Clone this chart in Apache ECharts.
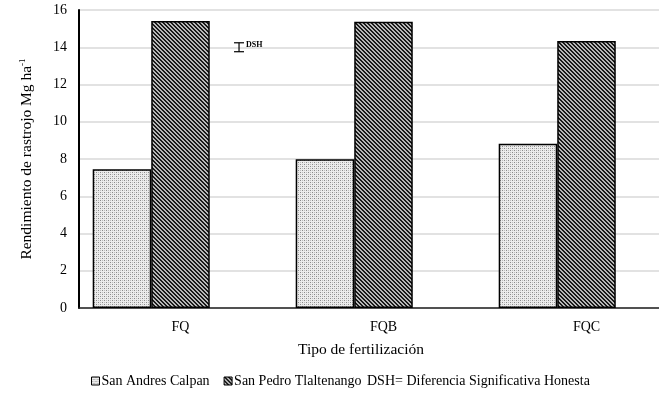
<!DOCTYPE html>
<html><head><meta charset="utf-8">
<script src="https://cdn.jsdelivr.net/npm/echarts@6/dist/echarts.min.js"></script>
<style>html,body{margin:0;padding:0;background:#fff;overflow:hidden;width:659px;height:399px}#c{width:700px;height:399px}</style>
</head><body><div id="c"></div>
<script>
const categories = ['FQ', 'FQB', 'FQC'];
const sanAndres = [7.45, 7.98, 8.82];
const sanPedro = [15.41, 15.37, 14.33];
const dshValue = [14, '-', '-'];
const dshHalf = 0.24;
const seriesNames = ['San Andres Calpan', 'San Pedro Tlaltenango', 'DSH= Diferencia Significativa Honesta'];
const yTicks = [0, 2, 4, 6, 8, 10, 12, 14, 16];

function makePattern(kind) {
  const c = document.createElement('canvas');
  c.width = 4; c.height = 4;
  const g = c.getContext('2d');
  if (kind === 'light') {
    g.fillStyle = '#ececec'; g.fillRect(0, 0, 4, 4);
    g.fillStyle = '#8a8a8a';
    g.fillRect(0, 0, 1, 1); g.fillRect(2, 2, 1, 1);
    g.fillStyle = '#bdbdbd';
    g.fillRect(2, 0, 1, 1); g.fillRect(0, 2, 1, 1);
  } else {
    g.fillStyle = '#b8b8b8'; g.fillRect(0, 0, 4, 4);
    g.fillStyle = '#1a1a1a';
    for (let y = 0; y < 4; y++) for (let x = 0; x < 4; x++) {
      const d = ((x - y) % 4 + 4) % 4;
      if (d === 0 || d === 1) g.fillRect(x, y, 1, 1);
    }
  }
  return c;
}
const lightPat = { image: makePattern('light'), repeat: 'repeat' };
const darkPat = { image: makePattern('dark'), repeat: 'repeat' };

const FONT = 'Liberation Serif';
const chart = echarts.init(document.getElementById('c'), null, { renderer: 'canvas' });
const catGap = 0.135;

chart.setOption({
  animation: false,
  textStyle: { fontFamily: FONT, color: '#000' },
  grid: { left: 79, top: 10, bottom: 91, right: 12, containLabel: false },
  legend: [{
    top: 374, left: 91, padding: 0,
    icon: 'rect',
    itemWidth: 8, itemHeight: 8, itemGap: 14,
    textStyle: { fontFamily: FONT, fontSize: 14, color: '#000', padding: [0, 0, 0, -3] },
    data: [
      { name: seriesNames[0], itemStyle: { color: lightPat, borderColor: '#000', borderWidth: 1 } },
      { name: seriesNames[1], itemStyle: { color: darkPat, borderColor: '#000', borderWidth: 1 } }
    ]
  }, {
    top: 374, left: 362, padding: 0,
    icon: 'none', itemWidth: 0, itemHeight: 8,
    textStyle: { fontFamily: FONT, fontSize: 14, color: '#000' },
    data: [ { name: seriesNames[2] } ]
  }],
  xAxis: {
    type: 'category', data: categories,
    axisLine: { lineStyle: { color: '#222', width: 1.5 } },
    axisTick: { show: false },
    axisLabel: { fontFamily: FONT, fontSize: 14, color: '#000', margin: 12 },
    splitLine: { show: false }
  },
  yAxis: {
    type: 'value', min: 0, max: 16, interval: 2,
    axisLine: { show: true, lineStyle: { color: '#000', width: 2 } },
    axisTick: { show: false },
    axisLabel: { fontFamily: FONT, fontSize: 14, color: '#000', margin: 12,
      formatter: v => yTicks.indexOf(v) >= 0 ? String(v) : '' },
    splitLine: { lineStyle: { color: '#d9d9d9', width: 1.5 } },
    name: '{a|Rendimiento de rastrojo Mg ha}{s|-1}',
    nameLocation: 'middle', nameGap: 44, nameRotate: 90,
    nameTextStyle: {
      rich: {
        a: { fontFamily: FONT, fontSize: 15.5, color: '#000' },
        s: { fontFamily: FONT, fontSize: 9, color: '#000', verticalAlign: 'top', padding: [0, 0, 8, 0] }
      }
    }
  },
  graphic: [{
    type: 'text', left: 298, top: 342,
    style: { text: 'Tipo de fertilización', fontFamily: FONT, fontSize: 15.5, fill: '#000' }
  }],
  series: [
    { name: seriesNames[0], type: 'bar', data: sanAndres, barGap: '0%', barCategoryGap: (catGap * 100) + '%',
      itemStyle: { color: lightPat, borderColor: '#000', borderWidth: 1.5 } },
    { name: seriesNames[1], type: 'bar', data: sanPedro, barGap: '0%', barCategoryGap: (catGap * 100) + '%',
      itemStyle: { color: darkPat, borderColor: '#000', borderWidth: 1.5 } },
    { name: seriesNames[2], type: 'bar', data: dshValue, barGap: '0%', barCategoryGap: (catGap * 100) + '%',
      itemStyle: { color: 'rgba(0,0,0,0)', borderWidth: 0 } },
    {
      name: 'dsh-err', type: 'custom', z: 10,
      data: dshValue.map((v, i) => v === '-' ? null : [i, v, dshHalf]).filter(Boolean),
      renderItem: function (params, api) {
        const ci = api.value(0), v = api.value(1), h = api.value(2);
        const catW = api.size([1, 0])[0];
        const bw = catW * (1 - catGap) / 3;
        const c = api.coord([ci, v]);
        const x = c[0] + bw;
        const yTop = api.coord([ci, v + h])[1];
        const yBot = api.coord([ci, v - h])[1];
        const cap = 5;
        return { type: 'group', children: [
          { type: 'line', shape: { x1: x, y1: yTop, x2: x, y2: yBot }, style: { stroke: '#000', lineWidth: 1.2 } },
          { type: 'line', shape: { x1: x - cap, y1: yTop, x2: x + cap, y2: yTop }, style: { stroke: '#000', lineWidth: 1.2 } },
          { type: 'line', shape: { x1: x - cap, y1: yBot, x2: x + cap, y2: yBot }, style: { stroke: '#000', lineWidth: 1.2 } },
          { type: 'text', x: x + 7, y: yTop - 2, style: { text: 'DSH', fontFamily: FONT, fontSize: 8, fontWeight: 'bold', fill: '#000', textVerticalAlign: 'top' } }
        ]};
      }
    }
  ]
});
</script></body></html>
